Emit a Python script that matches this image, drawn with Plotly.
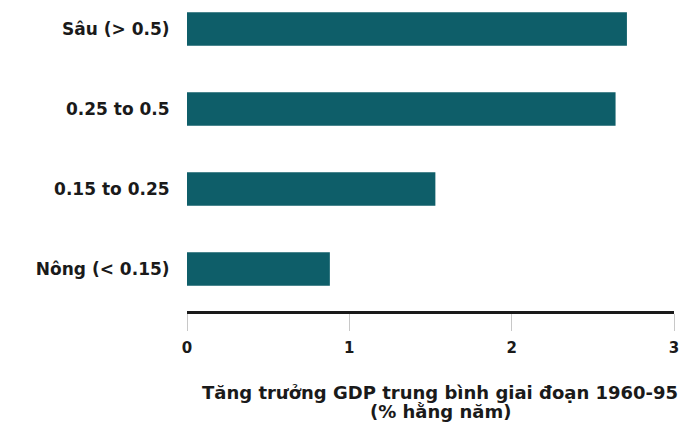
import plotly.graph_objects as go

categories = ["Sâu (> 0.5)", "0.25 to 0.5", "0.15 to 0.25", "Nông (< 0.15)"]
growth = [2.71, 2.64, 1.53, 0.88]
x_ticks = [0, 1, 2, 3]
x_title_lines = ["Tăng trưởng GDP trung bình giai đoạn 1960-95", "(% hằng năm)"]

FONT = "DejaVu Sans, Liberation Sans, Arial, sans-serif"
INK = "#1a1a1a"

fig = go.Figure()
fig.add_trace(go.Bar(
    y=categories, x=growth, orientation="h",
    width=0.42,
    marker=dict(color="#0e5e69", line=dict(width=0)),
    hoverinfo="x+y",
))

fig.update_layout(
    width=685, height=428,
    margin=dict(l=179, r=19, t=0, b=125),
    paper_bgcolor="white", plot_bgcolor="white",
    font=dict(family=FONT, size=15, color=INK),
    showlegend=False,
)
for txt, shift, size in zip(x_title_lines, [-81, -100], [18, 18]):
    fig.add_annotation(
        text="<b>" + txt + "</b>",
        xref="paper", yref="paper", x=0.52, y=0,
        xanchor="center", yanchor="middle", yshift=shift,
        showarrow=False, font=dict(family=FONT, size=size, color=INK),
    )
fig.update_xaxes(
    range=[0, 3], tickvals=x_ticks, ticktext=["<b>%d</b>" % v for v in x_ticks],
    showgrid=False, zeroline=False,
    showline=True, linecolor=INK, linewidth=3,
    ticks="outside", ticklen=17, tickcolor="#c8c8c8", tickwidth=1,
    ticklabelstandoff=4,
    tickfont=dict(family=FONT, size=15, color=INK),
)
fig.update_yaxes(
    categoryorder="array", categoryarray=categories,
    tickvals=categories, ticktext=["<b>%s</b>" % c for c in categories],
    range=[3.525, -0.2625],
    showgrid=False, zeroline=False, showline=False,
    ticks="outside", ticklen=13, tickcolor="rgba(0,0,0,0)",
    tickfont=dict(family=FONT, size=17, color=INK),
)

fig.write_html("out.html")
